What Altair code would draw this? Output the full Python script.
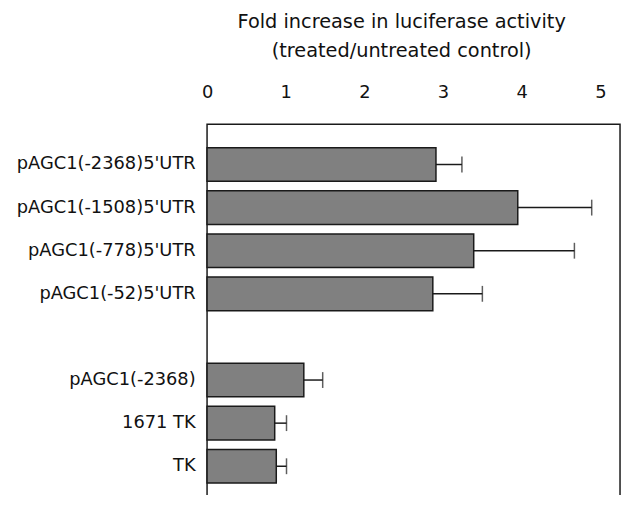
import altair as alt
import pandas as pd

labels = ["pAGC1(-2368)5'UTR", "pAGC1(-1508)5'UTR", "pAGC1(-778)5'UTR",
          "pAGC1(-52)5'UTR", "pAGC1(-2368)", "1671 TK", "TK"]
values = [2.91, 3.95, 3.39, 2.87, 1.23, 0.86, 0.88]
upper = [3.24, 4.89, 4.67, 3.50, 1.47, 1.01, 1.01]
domain_order = labels[:4] + [" "] + labels[4:]
tick_values = [0, 1, 2, 3, 4, 5]

df = pd.DataFrame({"construct": labels, "value": values, "upper": upper})

FONT = "DejaVu Sans"
xscale = alt.Scale(domain=[0, 5.25], nice=False, zero=True)
yscale = alt.Scale(domain=domain_order, paddingInner=0.22, paddingOuter=0.544)
yenc = alt.Y("construct:N", scale=yscale, sort=domain_order,
             axis=alt.Axis(title=None, domain=False, ticks=False, labelPadding=12,
                           labelFont=FONT, labelFontSize=18, labelColor="#111",
                           labelAlign="right", labelLimit=400))

bars = alt.Chart(df).mark_bar(color="#808080", stroke="#1a1a1a", strokeWidth=1.5).encode(
    x=alt.X("value:Q", scale=xscale,
            axis=alt.Axis(orient="top", values=tick_values, ticks=False, tickSize=0,
                          domain=False, grid=False, labelPadding=23, labelFlush=False,
                          labelFont=FONT, labelFontSize=18, labelColor="#111",
                          title=["Fold increase in luciferase activity",
                                 "(treated/untreated control)"],
                          titleFont=FONT, titleFontSize=19.5, titleFontWeight="normal",
                          titleColor="#111", titleLineHeight=30,
                          titleX=196, titleY=-98, titleAlign="center",
                          titleBaseline="alphabetic", titleAngle=0)),
    y=yenc,
)

errs = alt.Chart(df).mark_rule(color="#1a1a1a", strokeWidth=1.5).encode(
    x=alt.X("value:Q", scale=xscale,
            axis=alt.Axis(orient="bottom", values=tick_values, offset=-6, tickSize=6,
                          tickWidth=1.5, tickColor="#1a1a1a", labels=False,
                          domain=False, grid=False, title=None)),
    x2="upper:Q",
    y=yenc,
)

caps = alt.Chart(df).mark_tick(color="#1a1a1a", thickness=1.5, size=16).encode(
    x=alt.X("upper:Q", scale=xscale, axis=None),
    y=yenc,
)

chart = alt.layer(bars, errs, caps).resolve_axis(x="independent").properties(
    width=417, height=386,
    padding={"left": 201, "top": 115, "right": 3, "bottom": -14},
    autosize=alt.AutoSizeParams(type="none"),
).configure(background="white").configure_view(stroke="#1a1a1a", strokeWidth=1.5)

chart.save("out.html", embed_options={"renderer": "svg", "actions": False})
